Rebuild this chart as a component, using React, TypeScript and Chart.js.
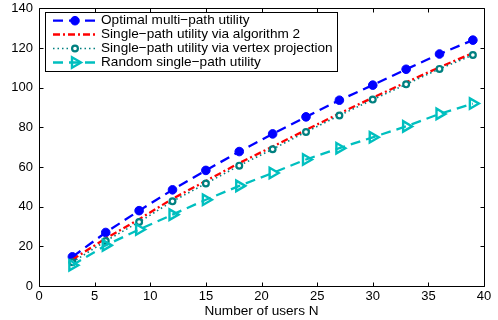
import React, { useEffect, useRef } from "react";
import { Chart, registerables } from "chart.js";

Chart.register(...registerables);

const usersN = [3, 6, 9, 12, 15, 18, 21, 24, 27, 30, 33, 36, 39];
const optimalMulti = [14.7, 27, 38, 48.5, 58.3, 67.8, 76.7, 85.3, 93.7, 101.3, 109.3, 117, 124];
const singleAlg2 = [13.3, 24, 33.7, 44, 53, 62, 70.3, 78.7, 87, 95, 102.7, 110.3, 117.5];
const singleVertex = [12, 22.7, 32.3, 42.7, 51.7, 60.7, 69, 77.7, 86, 94, 101.7, 109.5, 116.5];
const randomSingle = [10.5, 20.5, 28.5, 36, 43.5, 50.5, 57, 63.8, 69.5, 75, 80.5, 86.8, 92];

const seriesLabels = [
  "Optimal multi\u2212path utility",
  "Single\u2212path utility via algorithm 2",
  "Single\u2212path utility via vertex projection",
  "Random single\u2212path utility",
];
const xTitle = "Number of users N";

const FONT = '"Liberation Sans", Arial, Helvetica, sans-serif';

const BLUE = "#0000FF";
const RED = "#FF0000";
const TEAL = "#008080";
const CYAN = "#00BFBF";

const toPts = (ys: number[]) => ys.map((y, i) => ({ x: usersN[i], y }));

function drawMarker(ctx: CanvasRenderingContext2D, ds: any, x: number, y: number) {
  const r = ds.pointRadius;
  ctx.save();
  ctx.setLineDash([]);
  ctx.fillStyle = ds.pointBackgroundColor;
  ctx.strokeStyle = ds.pointBorderColor;
  ctx.lineWidth = ds.pointBorderWidth;
  ctx.beginPath();
  if (ds.pointStyle === "triangle") {
    const rot = ((ds.pointRotation || 0) * Math.PI) / 180;
    for (let k = 0; k < 3; k++) {
      const ang = rot - Math.PI / 2 + (k * 2 * Math.PI) / 3;
      const px = x + Math.cos(ang) * r;
      const py = y + Math.sin(ang) * r;
      if (k === 0) ctx.moveTo(px, py);
      else ctx.lineTo(px, py);
    }
    ctx.closePath();
  } else {
    ctx.arc(x, y, r, 0, Math.PI * 2);
  }
  ctx.fill();
  ctx.stroke();
  ctx.restore();
}

const framePlugin = {
  id: "frameTicks",
  afterDatasetsDraw(chart: any) {
    const { ctx, chartArea: a, scales } = chart;
    ctx.save();
    ctx.strokeStyle = "#000";
    ctx.lineWidth = 1;
    ctx.setLineDash([]);
    const L = Math.round(a.left) + 0.5;
    const R = Math.round(a.right) + 0.5;
    const T = Math.round(a.top) + 0.5;
    const B = Math.round(a.bottom) + 0.5;
    ctx.beginPath();
    ctx.rect(L, T, R - L, B - T);
    ctx.stroke();
    const tl = 4;
    ctx.beginPath();
    scales.x.ticks.forEach((t: any) => {
      const px = Math.round(scales.x.getPixelForValue(t.value)) + 0.5;
      ctx.moveTo(px, B);
      ctx.lineTo(px, B - tl);
      ctx.moveTo(px, T);
      ctx.lineTo(px, T + tl);
    });
    scales.y.ticks.forEach((t: any) => {
      const py = Math.round(scales.y.getPixelForValue(t.value)) + 0.5;
      ctx.moveTo(L, py);
      ctx.lineTo(L + tl, py);
      ctx.moveTo(R, py);
      ctx.lineTo(R - tl, py);
    });
    ctx.stroke();
    ctx.restore();
  },
};

const legendPlugin = {
  id: "insideLegend",
  afterDraw(chart: any) {
    const { ctx } = chart;
    const bx = 45.5, by = 12.5, bw = 292, bh = 59;
    ctx.save();
    ctx.fillStyle = "#fff";
    ctx.fillRect(bx, by, bw, bh);
    ctx.strokeStyle = "#000";
    ctx.lineWidth = 1;
    ctx.setLineDash([]);
    ctx.strokeRect(bx, by, bw, bh);
    const rows = [20.7, 34.5, 48.5, 62.5];
    const x0 = 53, x1 = 97, xm = 75, tx = 101;
    chart.data.datasets.forEach((ds: any, i: number) => {
      const y = rows[i];
      ctx.save();
      ctx.strokeStyle = ds.borderColor;
      ctx.lineWidth = ds.borderWidth;
      ctx.setLineDash(ds.borderDash || []);
      ctx.beginPath();
      ctx.moveTo(x0, y);
      ctx.lineTo(x1, y);
      ctx.stroke();
      ctx.restore();
      if (ds.pointRadius > 0) drawMarker(ctx, ds, xm, y);
      ctx.fillStyle = "#000";
      ctx.font = `13.6px ${FONT}`;
      ctx.textBaseline = "middle";
      ctx.textAlign = "left";
      ctx.fillText(seriesLabels[i], tx, y);
    });
    ctx.restore();
  },
};

export default function App() {
  const ref = useRef<HTMLCanvasElement>(null);
  useEffect(() => {
    if (!ref.current) return;
    const chart = new Chart(ref.current, {
      type: "line",
      data: {
        datasets: [
          {
            label: seriesLabels[0],
            data: toPts(optimalMulti),
            borderColor: BLUE,
            borderWidth: 2.3,
            borderDash: [10, 6],
            pointStyle: "circle",
            pointRadius: 4.3,
            pointBorderWidth: 1,
            pointBackgroundColor: BLUE,
            pointBorderColor: BLUE,
            order: 4,
          },
          {
            label: seriesLabels[1],
            data: toPts(singleAlg2),
            borderColor: RED,
            borderWidth: 2.3,
            borderDash: [7, 3, 2, 3],
            pointRadius: 0,
            order: 3,
          },
          {
            label: seriesLabels[2],
            data: toPts(singleVertex),
            borderColor: TEAL,
            borderWidth: 1.6,
            borderDash: [1.5, 3],
            pointStyle: "circle",
            pointRadius: 2.9,
            pointBorderWidth: 2.2,
            pointBackgroundColor: "rgba(255,255,255,1)",
            pointBorderColor: TEAL,
            order: 2,
          },
          {
            label: seriesLabels[3],
            data: toPts(randomSingle),
            borderColor: CYAN,
            borderWidth: 2.3,
            borderDash: [10, 6],
            pointStyle: "triangle",
            pointRotation: 90,
            pointRadius: 6,
            pointBorderWidth: 2.4,
            pointBackgroundColor: "rgba(255,255,255,0)",
            pointBorderColor: CYAN,
            order: 1,
          },
        ] as any,
      },
      options: {
        animation: false,
        responsive: false,
        maintainAspectRatio: false,
        layout: { padding: { left: 0, right: 14, top: 6, bottom: 0 } },
        plugins: {
          legend: { display: false },
          tooltip: { enabled: false },
        },
        elements: { line: { tension: 0, fill: false } },
        scales: {
          x: {
            type: "linear",
            min: 0,
            max: 40,
            grid: { display: false, drawTicks: false },
            border: { display: false },
            ticks: {
              stepSize: 5,
              color: "#000",
              font: { family: FONT, size: 13 },
              padding: 3,
              maxRotation: 0,
              autoSkip: false,
            },
            title: {
              display: true,
              text: xTitle,
              color: "#000",
              font: { family: FONT, size: 13.6 },
              padding: { top: 0, bottom: 1 },
            },
            afterFit: (s: any) => {
              s.height = 34;
              s.paddingLeft = 0;
              s.paddingRight = 0;
            },
          },
          y: {
            type: "linear",
            min: 0,
            max: 140,
            grid: { display: false, drawTicks: false },
            border: { display: false },
            ticks: {
              stepSize: 20,
              color: "#000",
              font: { family: FONT, size: 13 },
              padding: 6,
            },
            afterFit: (s: any) => {
              s.width = 39;
              s.paddingTop = 0;
              s.paddingBottom = 0;
            },
          },
        },
      },
      plugins: [framePlugin, legendPlugin],
    } as any);
    return () => chart.destroy();
  }, []);
  return (
    <div style={{ position: "fixed", left: 0, top: 0, width: 498, height: 320, background: "#fff" }}>
      <canvas ref={ref} width={498} height={320} style={{ display: "block" }} />
    </div>
  );
}
